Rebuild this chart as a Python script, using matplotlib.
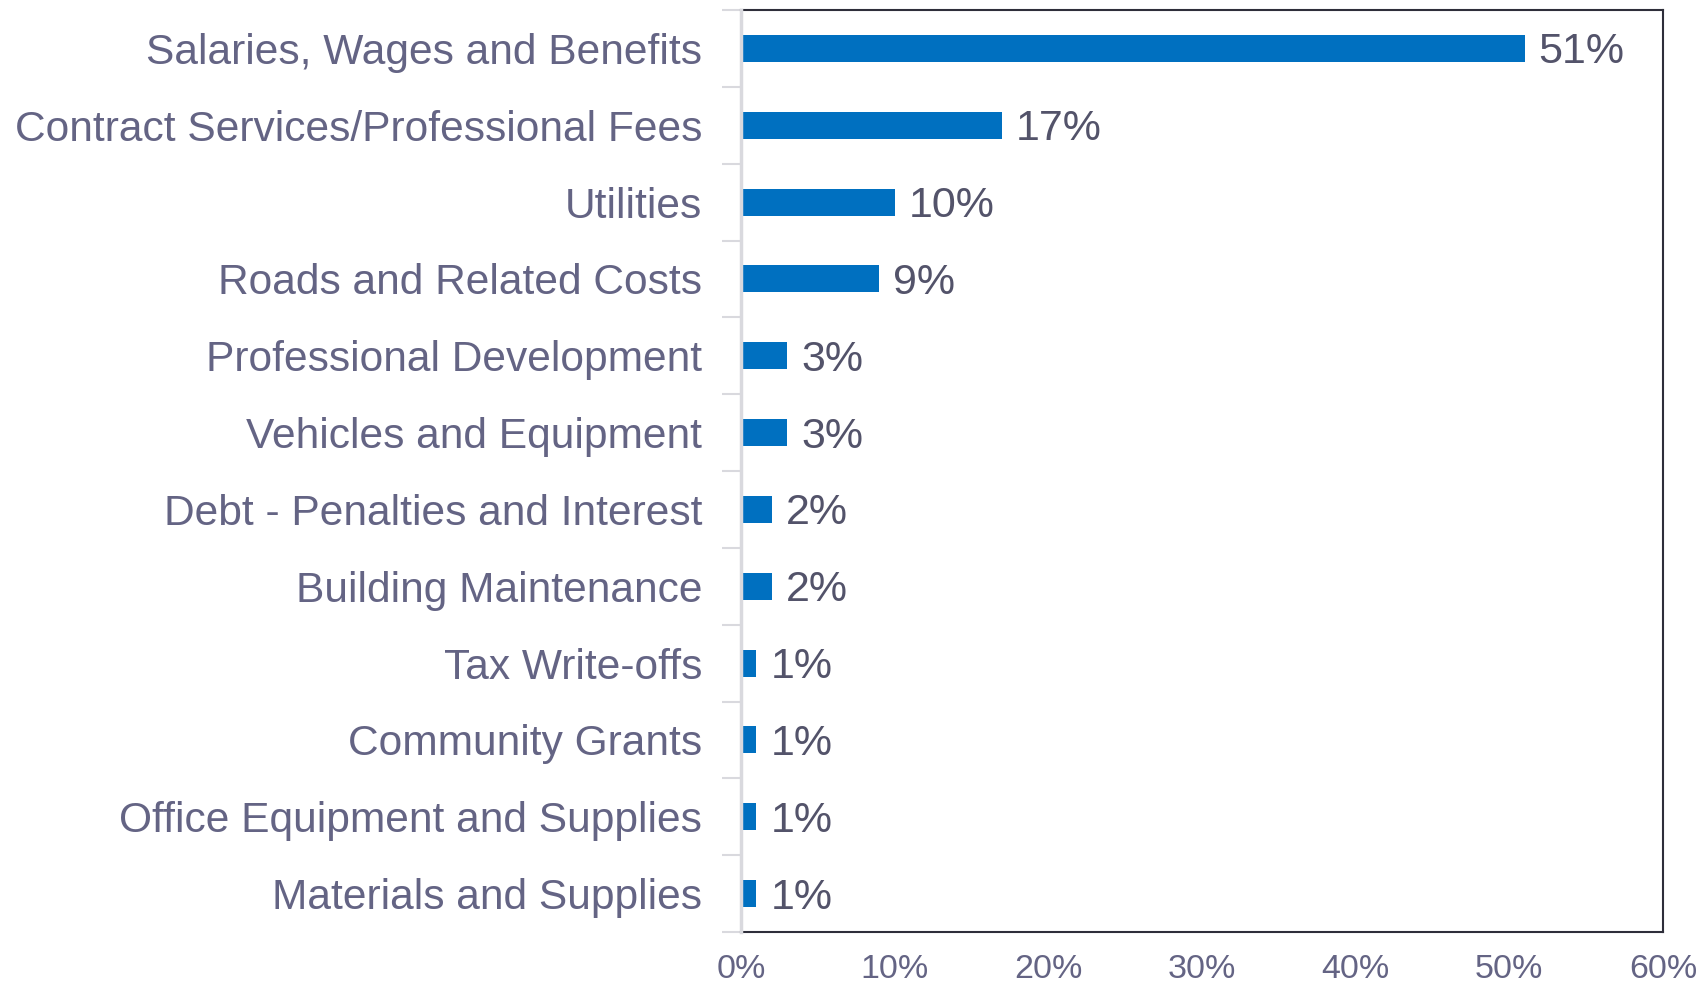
import matplotlib
matplotlib.use("Agg")
import matplotlib.pyplot as plt
from matplotlib.ticker import FixedLocator, NullFormatter

plt.rcParams['font.family'] = ['Liberation Sans', 'DejaVu Sans']

categories = [
    "Salaries, Wages and Benefits",
    "Contract Services/Professional Fees",
    "Utilities",
    "Roads and Related Costs",
    "Professional Development",
    "Vehicles and Equipment",
    "Debt - Penalties and Interest",
    "Building Maintenance",
    "Tax Write-offs",
    "Community Grants",
    "Office Equipment and Supplies",
    "Materials and Supplies",
]
shares = [51, 17, 10, 9, 3, 3, 2, 2, 1, 1, 1, 1]
xticks = [0, 10, 20, 30, 40, 50, 60]
xtick_labels = ["0%", "10%", "20%", "30%", "40%", "50%", "60%"]

bar_color = "#0070C0"
label_color = "#646484"
value_color = "#53536A"
frame_color = "#2E2E3A"
left_color = "#D9D9DE"

fig = plt.figure(figsize=(17.07, 9.86), dpi=100)
ax = fig.add_axes([741 / 1707, 1 - 932 / 986, (1663 - 741) / 1707, (932 - 10) / 986])

n = len(categories)
ypos = list(range(n))
ax.barh(ypos, shares, height=0.35, color=bar_color, zorder=3)
ax.set_ylim(n - 0.5, -0.5)
ax.set_xlim(0, 60)

ax.set_xticks(xticks)
ax.set_xticklabels(xtick_labels, fontsize=24.5, color=label_color)
ax.tick_params(axis='x', length=0, pad=16)

# category names as major labels, boundary ticks as minor
ax.set_yticks(ypos)
ax.set_yticklabels(categories, fontsize=30.6, color=label_color)
ax.tick_params(axis='y', which='major', length=0, pad=28)
ax.yaxis.set_minor_locator(FixedLocator([i - 0.5 for i in range(n + 1)]))
ax.yaxis.set_minor_formatter(NullFormatter())
ax.tick_params(axis='y', which='minor', length=14, width=1.5, color=left_color)

for sp in ("top", "right", "bottom"):
    ax.spines[sp].set_color(frame_color)
    ax.spines[sp].set_linewidth(1.5)
ax.spines["left"].set_color(left_color)
ax.spines["left"].set_linewidth(2.5)
ax.spines["left"].set_zorder(4)

for y, v in zip(ypos, shares):
    ax.annotate(f"{v}%", xy=(v, y), xytext=(14, -4), textcoords="offset pixels",
                va="center", ha="left", fontsize=31, color=value_color)

fig.savefig("out.png", dpi=100, facecolor="white")
